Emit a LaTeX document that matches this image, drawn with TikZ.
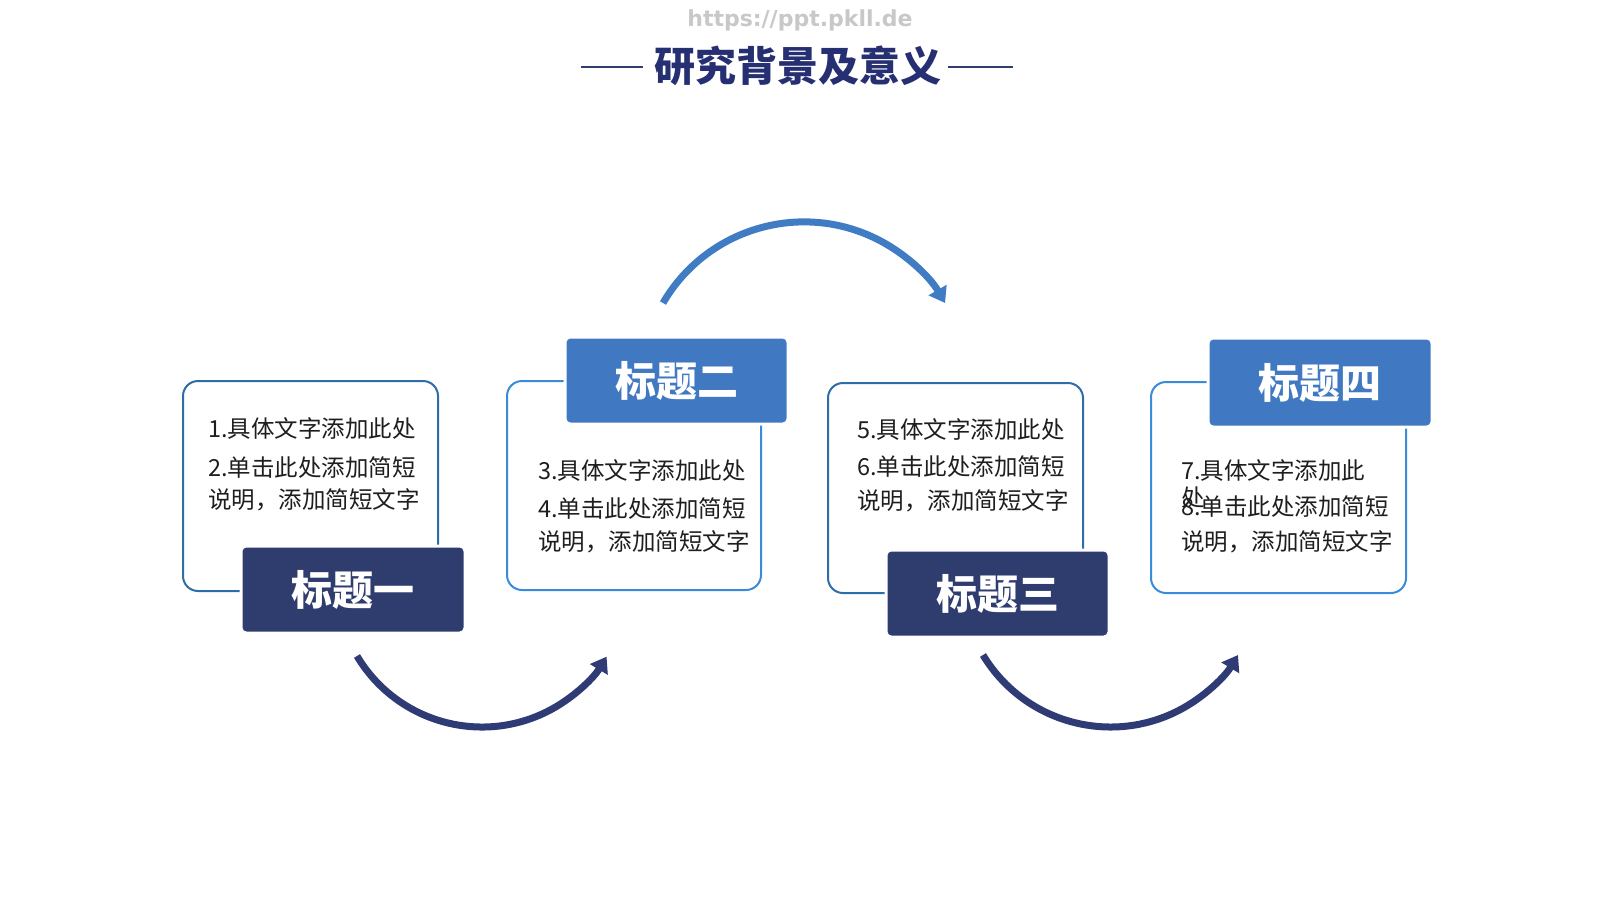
\documentclass[tikz,border=0pt]{standalone}
\usepackage{fontspec}
\setmainfont{Noto Sans CJK SC}
\newfontfamily\urlfont{DejaVu Sans}
\usetikzlibrary{arrows.meta}
\definecolor{navy}{HTML}{2F3C6E}
\definecolor{midblue}{HTML}{4079C1}
\definecolor{strokedark}{HTML}{2E6EA8}
\definecolor{strokelight}{HTML}{3B8BDB}
\definecolor{headnavy}{HTML}{252F72}
\definecolor{urlgray}{HTML}{C8C8C8}
\definecolor{bodytext}{HTML}{1E1E1E}
\definecolor{arrowblue}{HTML}{3F7CC4}
\definecolor{arrownavy}{HTML}{2F3B75}
\begin{document}
\begin{tikzpicture}[x=1pt,y=1pt,
  bodybox/.style={draw, line width=2pt, rounded corners=15pt, fill=white, inner sep=0pt},
  darkbody/.style={bodybox, draw=strokedark},
  lightbody/.style={bodybox, draw=strokelight},
  titlebox/.style={draw=white, line width=3pt, rounded corners=5pt, text=white, inner sep=0pt,
    font=\bfseries\fontsize{41}{41}\selectfont},
  darktitle/.style={titlebox, fill=navy},
  lighttitle/.style={titlebox, fill=midblue},
  line/.style={anchor=west, inner sep=0pt, text=bodytext, font=\fontsize{23.5}{23.5}\selectfont},
  hline/.style={draw=navy, line width=2pt},
  bigarrow/.style={line width=7pt, -{Triangle[width=20pt,length=15pt]}}
]
\useasboundingbox (0,0) rectangle (1600,-900);
\fill[white] (0,0) rectangle (1600,-900);

% header
\node[font=\urlfont\bfseries\fontsize{22}{22}\selectfont, text=urlgray, inner sep=0pt] (url) at (800,-20) {https://ppt.pkll.de};
\node[font=\bfseries\fontsize{41}{41}\selectfont, text=headnavy, inner sep=0pt] (title) at (797.5,-66) {研究背景及意义};
\coordinate (hl1) at (581,-67);
\coordinate (hl2) at (643,-67);
\coordinate (hr1) at (948,-67);
\coordinate (hr2) at (1013,-67);
\draw[hline] (hl1) -- (hl2);
\draw[hline] (hr1) -- (hr2);

% body boxes
\node[darkbody, minimum width=255pt, minimum height=210pt] (b1) at (310.5,-486) {};
\node[lightbody, minimum width=254pt, minimum height=209pt] (b2) at (634,-485.5) {};
\node[darkbody, minimum width=255pt, minimum height=210pt] (b3) at (955.5,-488) {};
\node[lightbody, minimum width=255pt, minimum height=211pt] (b4) at (1278.5,-487.5) {};

% title boxes
\node[darktitle, minimum width=224pt, minimum height=87pt] (h1) at (353,-589.5) {标题一};
\node[lighttitle, minimum width=223pt, minimum height=87pt] (h2) at (676.5,-380.5) {标题二};
\node[darktitle, minimum width=223pt, minimum height=87pt] (h3) at (997.5,-593.5) {标题三};
\node[lighttitle, minimum width=224pt, minimum height=89pt] (h4) at (1320,-382.5) {标题四};

% texts
\node[line] (t11) at (208,-428) {1.具体文字添加此处};
\node[line] (t12) at (208,-468) {2.单击此处添加简短};
\node[line] (t13) at (208,-500) {说明，添加简短文字};

\node[line] (t21) at (538,-470) {3.具体文字添加此处};
\node[line] (t22) at (538,-509) {4.单击此处添加简短};
\node[line] (t23) at (538,-542) {说明，添加简短文字};

\node[line] (t31) at (857,-429) {5.具体文字添加此处};
\node[line] (t32) at (857,-467) {6.单击此处添加简短};
\node[line] (t33) at (857,-501) {说明，添加简短文字};

\node[line] (t41) at (1181,-470) {7.具体文字添加此};
\node[line] (t41b) at (1181,-498) {处};
\node[line] (t42) at (1181,-507) {8.单击此处添加简短};
\node[line] (t43) at (1181,-542) {说明，添加简短文字};

% arrows
\coordinate (a1s) at (357,-656);
\coordinate (a2s) at (663,-303);
\coordinate (a3s) at (983,-655);
\draw[bigarrow, draw=arrownavy] (a1s) arc[start angle=210.8, end angle=328.9, radius=145.5];
\draw[bigarrow, draw=arrowblue] (a2s) arc[start angle=149.8, end angle=30.2, radius=163.2];
\draw[bigarrow, draw=arrownavy] (a3s) arc[start angle=211.1, end angle=328.9, radius=148.9];
\end{tikzpicture}
\end{document}
